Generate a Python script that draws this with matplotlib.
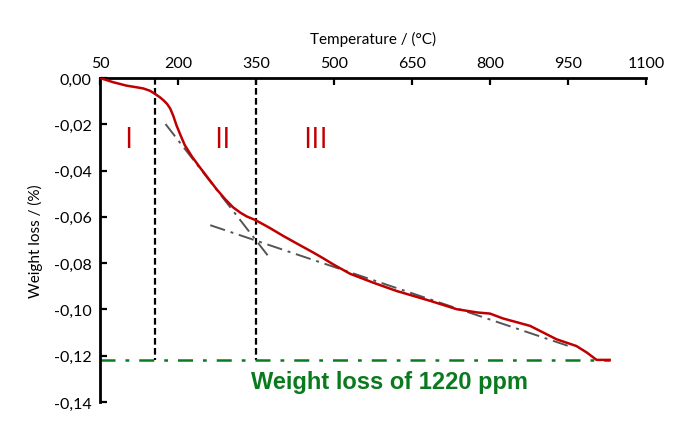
import numpy as np
import matplotlib.pyplot as plt
from matplotlib.ticker import FuncFormatter

# TGA curve
temp = [50, 75, 101, 120, 133, 146, 156, 165, 172, 179, 185, 191, 197, 205,
        213, 227, 242, 258, 274, 290, 306, 320, 332, 349, 375, 402, 430, 460,
        480, 499, 531, 575, 620, 685, 736, 775, 800, 825, 877, 928, 966, 986,
        1005, 1030]
loss = [0.0, -0.0018, -0.0033, -0.0040, -0.0045, -0.0055, -0.0069, -0.0083,
        -0.0096, -0.0112, -0.0132, -0.0164, -0.0204, -0.0248, -0.0290, -0.0340,
        -0.0386, -0.0433, -0.0480, -0.0522, -0.0559, -0.0582, -0.0598, -0.0614,
        -0.0646, -0.0682, -0.0717, -0.0754, -0.0780, -0.0806, -0.0846, -0.0884,
        -0.0920, -0.0963, -0.0999, -0.1013, -0.1018, -0.1039, -0.1071, -0.1129,
        -0.1158, -0.1186, -0.1218, -0.1218]

# tangent lines (grey dash-dot)
tan1_t = [176, 373]
tan1_w = [-0.0199, -0.0768]
tan2_t = [262, 960]
tan2_w = [-0.0636, -0.1165]

# region borders and total loss
borders = [156, 350]
total_loss = -0.1218
regions = ['I', 'II', 'III']
region_t = [105, 286, 465]
region_w = -0.0265

xticks = [50, 200, 350, 500, 650, 800, 950, 1100]
yticks = [0.0, -0.02, -0.04, -0.06, -0.08, -0.10, -0.12, -0.14]

plt.rcParams['font.family'] = ['Lato', 'DejaVu Sans']

fig = plt.figure(figsize=(6.82, 4.27), dpi=100)
ax = fig.add_axes([100 / 682, 1 - 403 / 427, 546 / 682, 324 / 427])

ax.plot(temp, loss, color='#c00000', lw=1.8, zorder=4)
ax.plot(tan1_t, tan1_w, color='#555555', lw=1.4, ls=(0, (8, 3, 1.5, 3)), zorder=3)
ax.plot(tan2_t, tan2_w, color='#555555', lw=1.4, ls=(0, (8, 3, 1.5, 3)), zorder=3)

for b in borders:
    ax.plot([b, b], [0, total_loss], color='black', lw=1.6, ls=(0, (3, 1.5)), zorder=2)

ax.plot([50, 1030], [total_loss, total_loss], color='#0a7a1e', lw=1.8,
        ls=(0, (6, 4, 1.5, 4)), zorder=2)
ax.text(607, -0.131, 'Weight loss of 1220 ppm', color='#0a7a1e',
        fontsize=17, fontweight='bold', family='Liberation Sans',
        ha='center', va='center')

for lab, t in zip(regions, region_t):
    ax.text(t, region_w, lab, color='#c00000', fontsize=21,
            family='Open Sans', ha='center', va='center')

ax.set_xlim(50, 1100)
ax.set_ylim(-0.14, 0)
ax.xaxis.tick_top()
ax.xaxis.set_label_position('top')
ax.set_xticks(xticks)
ax.set_yticks(yticks)
ax.yaxis.set_major_formatter(FuncFormatter(lambda v, p: f'{v:.2f}'.replace('.', ',').replace('-0,00', '0,00')))
ax.tick_params(direction='in', length=5, width=1.6, labelsize=11.5, pad=6)
ax.set_xlabel('Temperature / (°C)', fontsize=11, labelpad=9)
ax.set_ylabel('Weight loss / (%)', fontsize=11, labelpad=8)

for s in ['right', 'bottom']:
    ax.spines[s].set_visible(False)
for s in ['left', 'top']:
    ax.spines[s].set_linewidth(2)

fig.savefig('out.png', dpi=100)
